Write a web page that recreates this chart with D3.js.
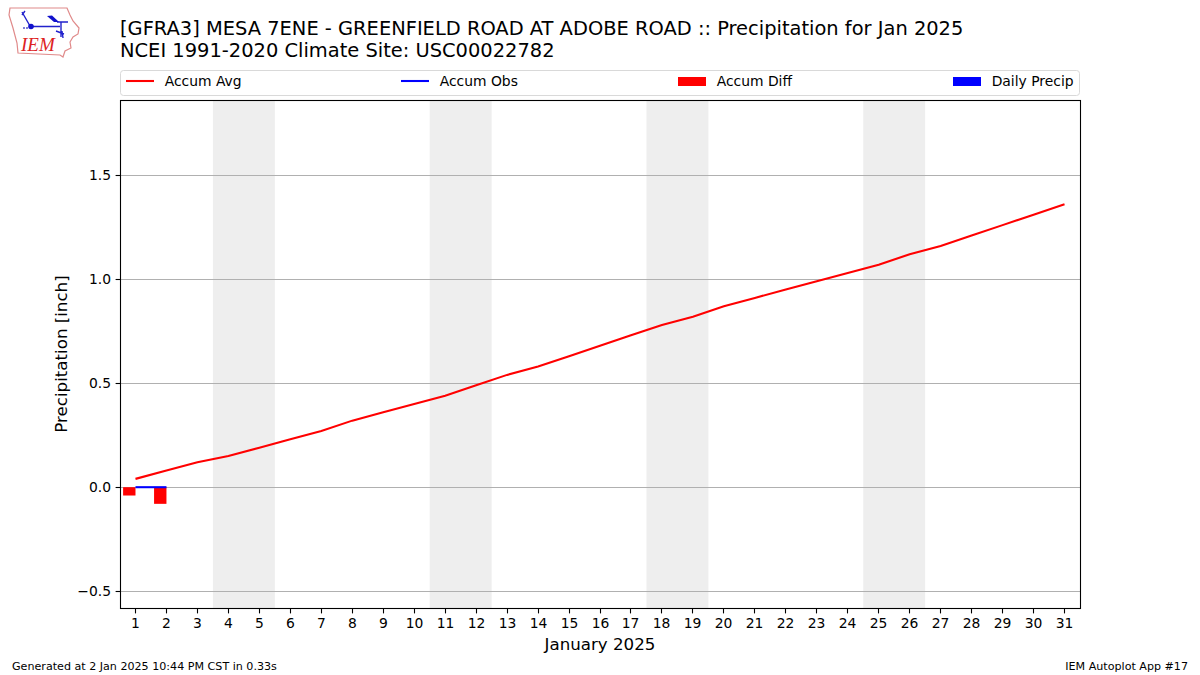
<!DOCTYPE html>
<html>
<head>
<meta charset="utf-8">
<script src="https://cdn.jsdelivr.net/npm/d3@7"></script>
<style>
  html, body { margin: 0; padding: 0; background: #fff; }
  text { font-family: "DejaVu Sans", sans-serif; fill: #000; }
</style>
</head>
<body>
<div id="grafico"></div>
<script>
// Datos
var dias = d3.range(1, 32);
var accumAvg = [0.04, 0.08, 0.12, 0.15, 0.19, 0.23, 0.27, 0.32, 0.36, 0.40, 0.44,
  0.49, 0.54, 0.58, 0.63, 0.68, 0.73, 0.78, 0.82, 0.87, 0.91, 0.95, 0.99, 1.03,
  1.07, 1.12, 1.16, 1.21, 1.26, 1.31, 1.36];
var diasObs = [1, 2];
var accumObs = [0, 0];
var accumDiff = [-0.04, -0.08];
var finesDeSemana = [[3.5, 5.5], [10.5, 12.5], [17.5, 19.5], [24.5, 26.5]];
var ticksY = [-0.5, 0, 0.5, 1.0, 1.5];
var leyenda = ["Accum Avg", "Accum Obs", "Accum Diff", "Daily Precip"];

var ancho = 1200, alto = 675;
var margen = { top: 100.5, right: 1080.5, bottom: 608.5, left: 120.5 };

var svg = d3.select("#grafico").append("svg")
  .attr("width", ancho)
  .attr("height", alto)
  .style("display", "block");

var x = d3.scaleLinear().domain([0.5, 31.5]).range([120, 1080]);
var y = d3.scaleLinear().domain([-0.5832, 1.8591]).range([margen.bottom, margen.top]);

// matplotlib pega las marcas al pixel
var snap = function(v){ return Math.floor(v) + 0.5; };

// Fines de semana
svg.append("g").selectAll("rect")
  .data(finesDeSemana)
  .enter()
  .append("rect")
  .attr("x", function(d){ return x(d[0]); })
  .attr("y", margen.top)
  .attr("width", function(d){ return x(d[1]) - x(d[0]); })
  .attr("height", margen.bottom - margen.top)
  .attr("fill", "#eeeeee");

// Rejilla
svg.append("g").selectAll("line")
  .data(ticksY)
  .enter()
  .append("line")
  .attr("x1", margen.left)
  .attr("x2", margen.right)
  .attr("y1", function(d){ return snap(y(d)); })
  .attr("y2", function(d){ return snap(y(d)); })
  .attr("stroke", "#b0b0b0")
  .attr("stroke-width", 1.1);

// Barras de diferencia, alineadas a la izquierda del dia
svg.append("g").selectAll("rect")
  .data(accumDiff)
  .enter()
  .append("rect")
  .attr("x", function(d, i){ return x(diasObs[i] - 0.4); })
  .attr("y", y(0))
  .attr("width", x(1.4) - x(1))
  .attr("height", function(d){ return y(d) - y(0); })
  .attr("fill", "#ff0000");

var linea = d3.line()
  .x(function(d){ return x(d[0]); })
  .y(function(d){ return y(d[1]); });

svg.append("path")
  .datum(d3.zip(dias, accumAvg))
  .attr("d", linea)
  .attr("fill", "none")
  .attr("stroke", "#ff0000")
  .attr("stroke-width", 2.08);

svg.append("path")
  .datum(d3.zip(diasObs, accumObs))
  .attr("d", linea)
  .attr("fill", "none")
  .attr("stroke", "#0000ff")
  .attr("stroke-width", 2.08);

// Ejes
var ejeX = svg.append("g")
  .attr("transform", "translate(0," + margen.bottom + ")")
  .call(d3.axisBottom(x).tickValues(dias).tickFormat(d3.format("d")).offset(0).tickSize(4.9).tickPadding(5.2));
var ejeY = svg.append("g")
  .attr("transform", "translate(" + margen.left + ",0)")
  .call(d3.axisLeft(y).tickValues(ticksY).offset(0).tickSize(4.9).tickPadding(4.6)
    .tickFormat(function(d){ return d3.format(".1f")(d).replace("-", "\u2212"); }));
ejeX.selectAll(".tick").attr("transform", function(d){ return "translate(" + snap(x(d)) + ",0)"; });
ejeY.selectAll(".tick").attr("transform", function(d){ return "translate(0," + snap(y(d)) + ")"; });
[ejeX, ejeY].forEach(function(e){
  e.selectAll("text").attr("font-size", 13.89).attr("font-family", "DejaVu Sans");
  e.selectAll("line").attr("stroke", "#000").attr("stroke-width", 1.1);
  e.select(".domain").remove();
});

// Marco
svg.append("rect")
  .attr("x", margen.left)
  .attr("y", margen.top)
  .attr("width", margen.right - margen.left)
  .attr("height", margen.bottom - margen.top)
  .attr("fill", "none")
  .attr("stroke", "#000")
  .attr("stroke-width", 1.1);

// Titulos
svg.append("text").text("[GFRA3] MESA 7ENE - GREENFIELD ROAD AT ADOBE ROAD :: Precipitation for Jan 2025")
  .attr("x", 120).attr("y", 35).attr("font-size", 19.44);
svg.append("text").text("NCEI 1991-2020 Climate Site: USC00022782")
  .attr("x", 120).attr("y", 57).attr("font-size", 19.44);

svg.append("text").text("January 2025")
  .attr("x", 600).attr("y", 649.5).attr("font-size", 16.67).style("text-anchor", "middle");
svg.append("text").text("Precipitation [inch]")
  .attr("transform", "translate(67,354) rotate(-90)")
  .attr("font-size", 16.67).style("text-anchor", "middle");

svg.append("text").text("Generated at 2 Jan 2025 10:44 PM CST in 0.33s")
  .attr("x", 12).attr("y", 670).attr("font-size", 11.11);
svg.append("text").text("IEM Autoplot App #17")
  .attr("x", 1188).attr("y", 670).attr("font-size", 11.11).style("text-anchor", "end");

// Leyenda
svg.append("rect")
  .attr("x", 120.5).attr("y", 70.5).attr("width", 959).attr("height", 25).attr("rx", 3)
  .attr("fill", "#fff").attr("stroke", "#d9d9d9");
var posLeyenda = [126, 401, 678, 953];
leyenda.forEach(function(nombre, i){
  if (i < 2) {
    svg.append("line")
      .attr("x1", posLeyenda[i]).attr("x2", posLeyenda[i] + 28)
      .attr("y1", 81).attr("y2", 81)
      .attr("stroke", i == 0 ? "#ff0000" : "#0000ff").attr("stroke-width", 2.08);
  } else {
    svg.append("rect")
      .attr("x", posLeyenda[i]).attr("y", 77).attr("width", 28).attr("height", 9)
      .attr("fill", i == 2 ? "#ff0000" : "#0000ff");
  }
  svg.append("text").text(nombre)
    .attr("x", posLeyenda[i] + 38.7).attr("y", 86).attr("font-size", 13.89);
});

// Logo IEM
var logo = svg.append("g");
logo.append("path")
  .attr("d", "M10,8 L67,8 L70,15 L73,21 L79,28 L78,34 L73,37 L70,42 L71,48 L65,51 L63,57 L60,55 L18,53 L17,43 L13,28 L9,15 Z")
  .attr("fill", "none").attr("stroke", "#e08a8a").attr("stroke-width", 1.2);
logo.append("path")
  .attr("d", "M22,12 L30,26 M22,15 L25,11 M31,26.5 L60,26.5 M57,22 L68,22 M61,22 L61,37 M56,31 L64,34 M62,31 L63,38")
  .attr("fill", "none").attr("stroke", "#2222cc").attr("stroke-width", 1.4);
logo.append("path")
  .attr("d", "M47,16 L52,15.5 L59,22 L54,22 Z")
  .attr("fill", "#1111cc");
logo.append("circle").attr("cx", 31).attr("cy", 26.5).attr("r", 2.8).attr("fill", "#1111cc");
logo.append("circle").attr("cx", 24).attr("cy", 28).attr("r", 1).attr("fill", "#5555cc");
logo.append("circle").attr("cx", 27).attr("cy", 28).attr("r", 1).attr("fill", "#5555cc");
logo.append("text").text("IEM")
  .attr("x", 21).attr("y", 51).attr("font-size", 19)
  .style("font-family", "Liberation Serif").style("font-style", "italic")
  .style("fill", "#d22");
</script>
</body>
</html>
